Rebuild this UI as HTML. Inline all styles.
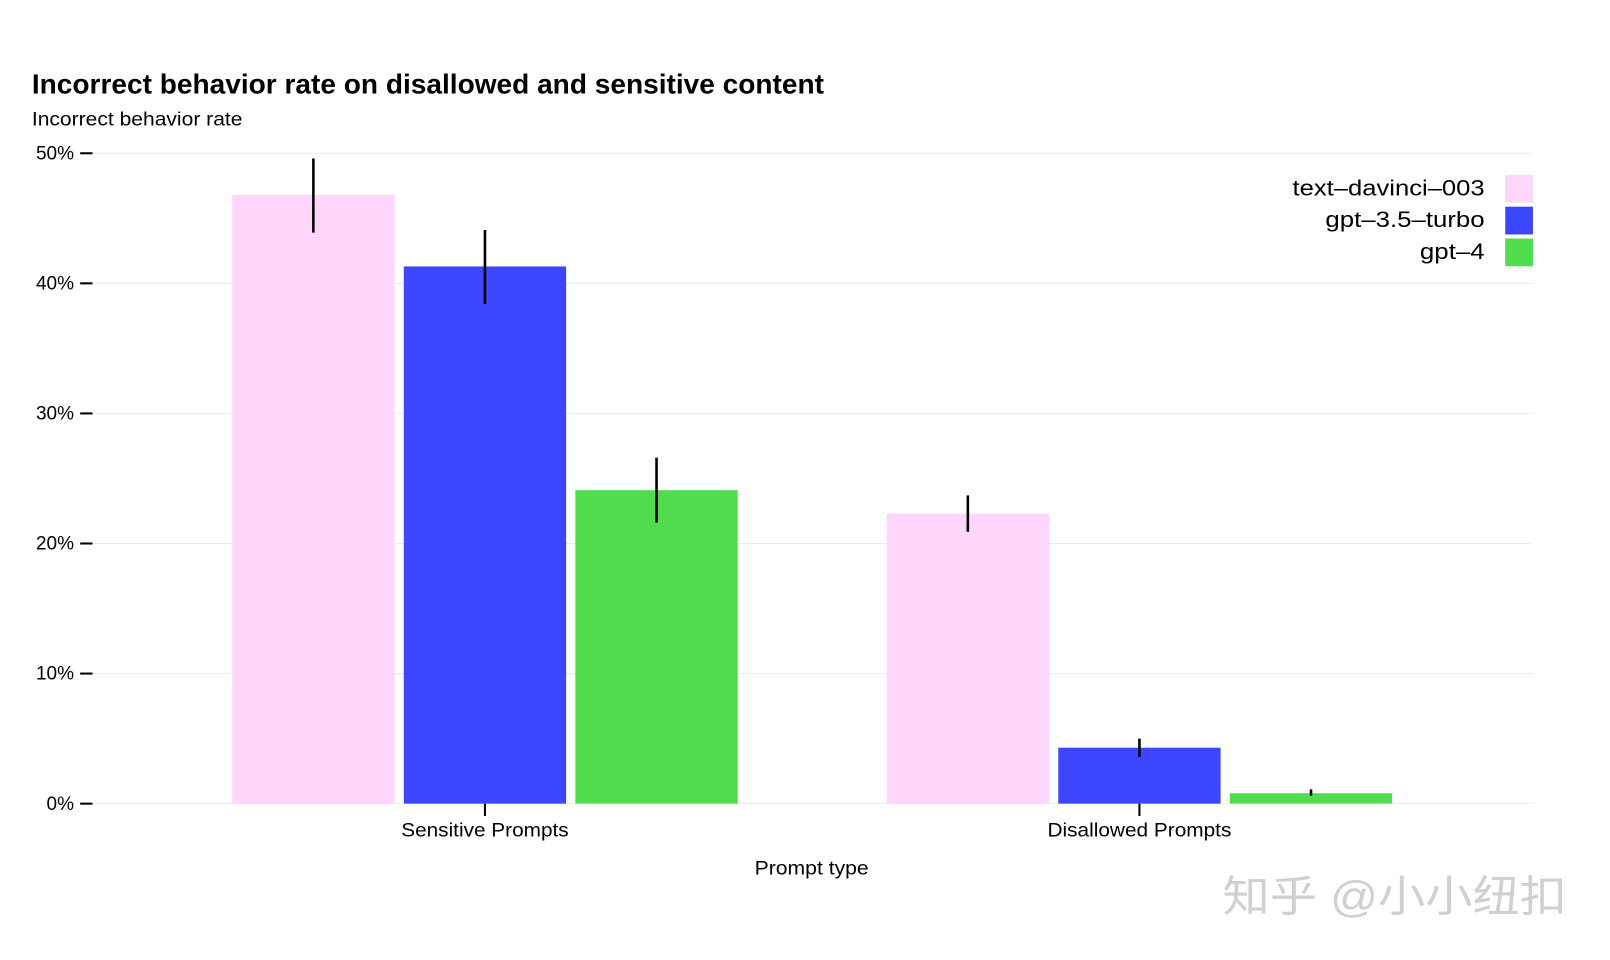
<!DOCTYPE html>
<html><head><meta charset="utf-8"><style>
html,body{margin:0;padding:0;background:#fff;}
svg{display:block;font-family:"Liberation Sans","Noto Sans CJK SC",sans-serif;}
</style></head><body>
<svg id="chart" width="1610" height="960" viewBox="0 0 1567 934" xmlns="http://www.w3.org/2000/svg">
<text x="31" y="91" font-size="27" font-weight="bold" fill="#000" textLength="771" lengthAdjust="spacingAndGlyphs">Incorrect behavior rate on disallowed and sensitive content</text>
<text x="31" y="122" font-size="19" fill="#000" textLength="205" lengthAdjust="spacingAndGlyphs">Incorrect behavior rate</text>
<text x="790" y="851" font-size="19" text-anchor="middle" fill="#000" textLength="111" lengthAdjust="spacingAndGlyphs">Prompt type</text>
<text x="1190" y="887" font-size="42" fill="#d0d0d0" textLength="335" lengthAdjust="spacingAndGlyphs">知乎 @小小纽扣</text>
<g id="grid"></g><g id="bars"></g><g id="legend"></g>
</svg>
<script>
const categories=["Sensitive Prompts","Disallowed Prompts"];
const seriesNames=["text\u2013davinci\u2013003","gpt\u20133.5\u2013turbo","gpt\u20134"];
const seriesColors=["#ffd6fb","#3d46ff","#51dc4d"];
const davinciVals=[46.8,22.3];
const turboVals=[41.3,4.3];
const gpt4Vals=[24.1,0.8];
const davinciErr=[[43.9,49.6],[20.9,23.7]];
const turboErr=[[38.4,44.1],[3.6,5.0]];
const gpt4Err=[[21.6,26.6],[0.6,1.1]];
const yTicks=[0,10,20,30,40,50];
const yTickLabels=["0%","10%","20%","30%","40%","50%"];
const NS="http://www.w3.org/2000/svg";
const y0=782,y50=149,xL=90,xR=1492;
const y=v=>y0+(y50-y0)*v/50;
const groupCenter=i=>472+i*(1109-472);
const barW=158,gap=9;
const legendLens=[187,155,63];
function mk(tag,attrs,parent){const e=document.createElementNS(NS,tag);for(const k in attrs)e.setAttribute(k,attrs[k]);parent.appendChild(e);return e;}
const grid=document.getElementById('grid');
yTicks.forEach((t,i)=>{
 const l=mk('line',{x1:xL,x2:xR,y1:y(t),y2:y(t),stroke:'#ebebeb','stroke-width':1},grid);
 
 
 const tk=mk('line',{x1:78,x2:90,y1:y(t),y2:y(t),stroke:'#000','stroke-width':2},grid);
 
 
 const tx=mk('text',{x:72,y:y(t)+6,'font-size':18.5,'text-anchor':'end'},grid);
 tx.textContent=yTickLabels[i];
 
 
});
const bars=document.getElementById('bars');
const vals=[davinciVals,turboVals,gpt4Vals],errs=[davinciErr,turboErr,gpt4Err];
categories.forEach((c,ci)=>{
 const cx=groupCenter(ci);
 vals.forEach((sv,si)=>{
  const bx=cx+(si-1)*(barW+gap)-barW/2;
  const r=mk('rect',{x:bx,y:y(sv[ci]),width:barW,height:y0-y(sv[ci]),fill:seriesColors[si]},bars);
  
  
  const e=errs[si][ci];
  const el=mk('line',{x1:bx+barW/2,x2:bx+barW/2,y1:y(e[0]),y2:y(e[1]),stroke:'#000','stroke-width':2.5},bars);
  
  
 });
 const tk=mk('line',{x1:cx,x2:cx,y1:y0,y2:y0+12,stroke:'#000','stroke-width':2},bars);
 
 
 const tx=mk('text',{x:cx,y:814,'font-size':19,'text-anchor':'middle',textLength:(ci==0?163:179),lengthAdjust:'spacingAndGlyphs'},bars);
 tx.textContent=c;
 
 
});
const lg=document.getElementById('legend');
seriesNames.forEach((n,i)=>{
 const r=mk('rect',{x:1465,y:170+i*31,width:27,height:27,fill:seriesColors[i]},lg);
 
 
 const t=mk('text',{x:1445-legendLens[i],y:190+i*31,'font-size':22,textLength:legendLens[i],lengthAdjust:'spacingAndGlyphs'},lg);
 t.textContent=n;
 
 
});
</script>
</body></html>
